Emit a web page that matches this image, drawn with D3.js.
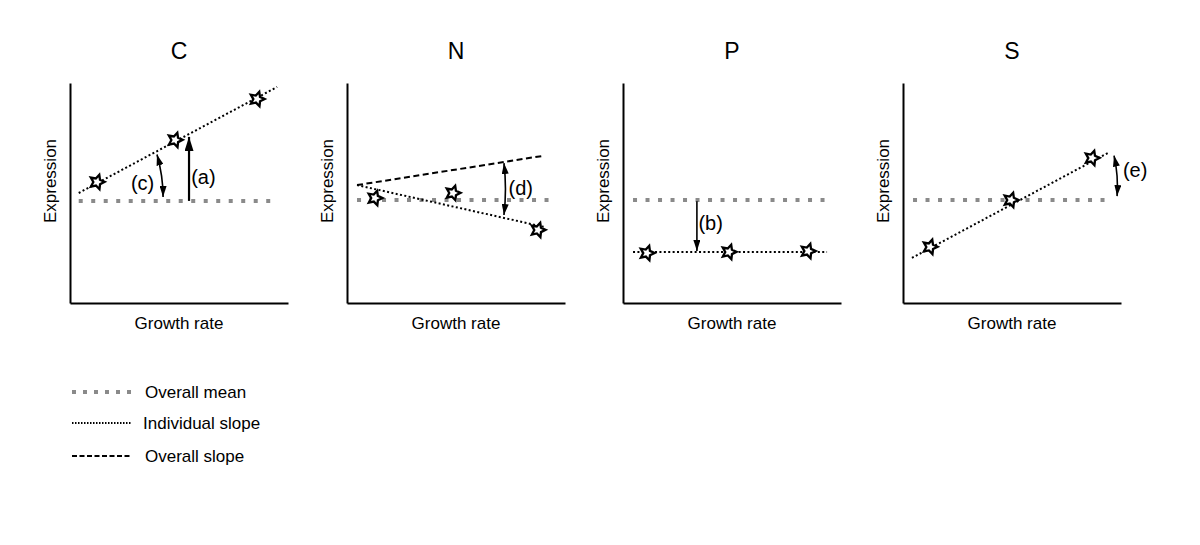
<!DOCTYPE html>
<html><head><meta charset="utf-8">
<script src="https://cdn.jsdelivr.net/npm/d3@7"></script>
<style>body{margin:0;background:#fff;} text{font-family:"Liberation Sans",Arial,sans-serif;fill:#000;}</style>
</head><body><svg id="chart" width="1200" height="545"></svg>
<script>
// ---- data ----
const panels = ["C", "N", "P", "S"];
const xLabel = "Growth rate";
const yLabel = "Expression";
const starX = [[1.24, 4.82, 8.58], [1.28, 4.86, 8.76], [1.10, 4.86, 8.49], [1.24, 4.95, 8.67]];
const starY = [[5.50, 7.41, 9.27], [4.77, 5.00, 3.32], [2.27, 2.32, 2.36], [2.55, 4.68, 6.59]];
const meanValue = [4.64, 4.68, 4.68, 4.68];
const meanFrom = [0.40, 0.46, 0.46, 0.46];
const meanTo = [9.50, 9.54, 9.59, 9.59];
const indivX = [[0.40, 9.50], [0.46, 9.08], [0.46, 9.36], [0.41, 9.40]];
const indivY = [[5.00, 9.82], [5.36, 3.45], [2.32, 2.32], [2.05, 6.82]];
const overallX = [null, [0.46, 8.94], null, null];
const overallY = [null, [5.36, 6.68], null, null];
const arrowPanel = [0, 0, 1, 2, 3];
const arrowLabel = ["(a)", "(c)", "(d)", "(b)", "(e)"];
const arrowX0 = [5.46, 4.27, 7.20, 3.39, 9.82];
const arrowY0 = [4.64, 4.82, 4.00, 4.62, 4.86];
const arrowX1 = [5.46, 3.99, 7.20, 3.39, 9.68];
const arrowY1 = [7.55, 6.75, 6.36, 2.36, 6.70];
const arrowDouble = [false, true, true, false, true];
const arrowBig = [true, false, false, false, false];
const labelX = [6.12, 3.33, 7.97, 4.02, 10.65];
const labelY = [5.73, 5.45, 5.23, 3.64, 6.05];
const legendLabels = ["Overall mean", "Individual slope", "Overall slope"];

// ---- layout ----
const svg = d3.select("#chart");
const panelLeft = [70, 347, 623, 903];
const plotW = 218, plotTop = 83, plotBottom = 303;

const defs = svg.append("defs");
function marker(id, w, l) {
  defs.append("marker").attr("id", id).attr("viewBox", `0 ${-w/2} ${l} ${w}`)
    .attr("refX", l).attr("refY", 0).attr("markerUnits", "userSpaceOnUse")
    .attr("markerWidth", l).attr("markerHeight", w).attr("orient", "auto-start-reverse")
    .append("path").attr("d", `M0,${-w/2}L${l},0L0,${w/2}Z`).attr("fill", "#000");
}
marker("headBig", 9, 14);
marker("headSmall", 7, 11);

function starPath(cx, cy, R, r, rot) {
  const pts = [];
  for (let i = 0; i < 10; i++) {
    const a = -Math.PI / 2 + rot + i * Math.PI / 5;
    const rr = i % 2 === 0 ? R : r;
    pts.push([cx + rr * Math.cos(a), cy + rr * Math.sin(a)]);
  }
  return "M" + pts.map(p => p.join(",")).join("L") + "Z";
}

const meanStyle = {stroke: "#8a8a8a", width: 4, dash: "4,8.5"};
const indivStyle = {stroke: "#000", width: 2, dash: "2,2.4"};
const overallStyle = {stroke: "#000", width: 2, dash: "6,3.5"};

panels.forEach((name, i) => {
  const x = d3.scaleLinear().domain([0, 10]).range([panelLeft[i], panelLeft[i] + plotW]);
  const y = d3.scaleLinear().domain([0, 10]).range([plotBottom, plotTop]);
  const g = svg.append("g");
  const line = d3.line().x(d => x(d[0])).y(d => y(d[1]));

  // axes
  g.append("g").attr("transform", `translate(0,${plotBottom})`)
    .call(d3.axisBottom(x).tickValues([]).tickSizeOuter(0))
    .select(".domain").attr("stroke-width", 2).attr("stroke", "#000");
  g.append("g").attr("transform", `translate(${panelLeft[i]},0)`)
    .call(d3.axisLeft(y).tickValues([]).tickSizeOuter(0))
    .select(".domain").attr("stroke-width", 2).attr("stroke", "#000");

  // title & axis labels
  const mid = (x.range()[0] + x.range()[1]) / 2;
  g.append("text").attr("x", mid).attr("y", 59).attr("text-anchor", "middle")
    .style("font-size", "23px").text(name);
  g.append("text").attr("x", mid).attr("y", 329).attr("text-anchor", "middle")
    .style("font-size", "17px").text(xLabel);
  g.append("text").attr("transform", `translate(${panelLeft[i] - 14},${181}) rotate(-90)`)
    .attr("text-anchor", "middle").style("font-size", "17px").text(yLabel);

  // overall mean
  g.append("path").attr("d", line([[meanFrom[i], meanValue[i]], [meanTo[i], meanValue[i]]]))
    .attr("fill", "none").attr("stroke", meanStyle.stroke).attr("stroke-width", meanStyle.width)
    .attr("stroke-dasharray", meanStyle.dash);
  // overall slope
  if (overallX[i]) {
    g.append("path").attr("d", line(overallX[i].map((v, k) => [v, overallY[i][k]])))
      .attr("fill", "none").attr("stroke", overallStyle.stroke).attr("stroke-width", overallStyle.width)
      .attr("stroke-dasharray", overallStyle.dash);
  }
  // individual slope
  g.append("path").attr("d", line(indivX[i].map((v, k) => [v, indivY[i][k]])))
    .attr("fill", "none").attr("stroke", indivStyle.stroke).attr("stroke-width", indivStyle.width)
    .attr("stroke-dasharray", indivStyle.dash);

  // arrows
  arrowPanel.forEach((p, k) => {
    if (p !== i) return;
    const x0 = x(arrowX0[k]), y0 = y(arrowY0[k]), x1 = x(arrowX1[k]), y1 = y(arrowY1[k]);
    let d;
    if (arrowDouble[k]) {
      const mx = (x0 + x1) / 2 + 3, my = (y0 + y1) / 2;
      d = `M${x0},${y0}Q${mx},${my} ${x1},${y1}`;
    } else {
      d = `M${x0},${y0}L${x1},${y1}`;
    }
    const head = arrowBig[k] ? "url(#headBig)" : "url(#headSmall)";
    const a = g.append("path").attr("d", d).attr("fill", "none").attr("stroke", "#000")
      .attr("stroke-width", arrowBig[k] ? 2.2 : 1.6).attr("marker-end", head);
    if (arrowDouble[k]) a.attr("marker-start", head);
    g.append("text").attr("x", x(labelX[k])).attr("y", y(labelY[k]) + 7).attr("text-anchor", "middle")
      .style("font-size", "20px").text(arrowLabel[k]);
  });

  // stars
  starX[i].forEach((sx, k) => {
    g.append("path").attr("d", starPath(x(sx), y(starY[i][k]), 7.6, 3.7, 0.3))
      .attr("fill", "#fff").attr("stroke", "#000").attr("stroke-width", 2.3).attr("stroke-linejoin", "miter");
  });
});

// legend
const legendY = [392, 423, 456];
const styles = [meanStyle, indivStyle, overallStyle];
const lx = d3.scaleLinear().domain([0, 1]).range([72, 132]);
legendLabels.forEach((t, k) => {
  const s = styles[k];
  svg.append("line").attr("x1", lx(0)).attr("x2", lx(1)).attr("y1", legendY[k]).attr("y2", legendY[k])
    .attr("stroke", s.stroke).attr("stroke-width", k === 0 ? 4 : 1.8)
    .attr("stroke-dasharray", k === 0 ? "4,7" : (k === 1 ? "1.5,1.5" : "5,2.5"));
  svg.append("text").attr("x", k === 1 ? 143 : 145).attr("y", legendY[k] + 6).style("font-size", "17px").text(t);
});
</script></body></html>
